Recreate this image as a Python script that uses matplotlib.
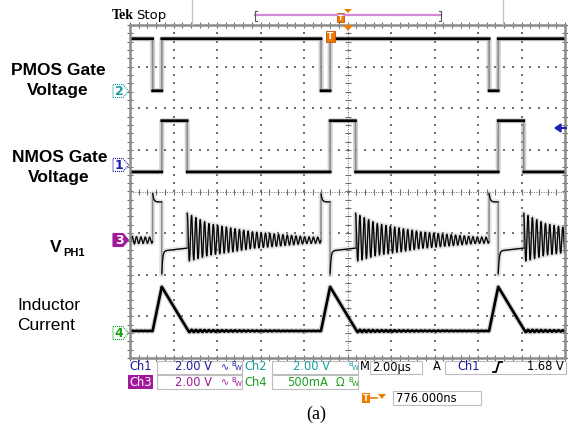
import numpy as np
import matplotlib.pyplot as plt
from matplotlib.patches import Polygon, Rectangle

W, H = 568, 428

# timing (us, trigger at 0, 2 us/div)
pulse_starts = [-16.69, -8.96, -1.22, 6.51]   # PMOS gate falling edges
pmos_low = 0.42
nmos_high = 1.17
fall_time = 1.22
ring_period = 0.2

# levels in divisions (screen centre = 0)
ch2_lvl = [2.42, 3.67]          # PMOS gate low / high
ch1_lvl = [0.47, 1.70]          # NMOS gate low / high
ch3_base = -1.17
ch3_pon = [-0.04, -0.25]        # spike / settled while PMOS on
ch3_non = [-2.0, -1.43, -1.36]  # spike / start / end while NMOS on
ring_t = [0, 1, 3, 5.5, 8]
ring_amp = [0.58, 0.38, 0.2, 0.08, 0.05]
ch4_lvl = [-3.35, -2.29]        # inductor current zero / peak

t = np.linspace(-10, 10, 8001)
ch1 = np.full_like(t, ch1_lvl[0])
ch2 = np.full_like(t, ch2_lvl[1])
ch3 = np.full_like(t, ch3_base)
ch4 = np.full_like(t, ch4_lvl[0])

for i, s in enumerate(pulse_starts):
    p_end = s + pmos_low
    n_end = p_end + nmos_high
    nxt = pulse_starts[i + 1] if i + 1 < len(pulse_starts) else 11
    m = (t >= s) & (t < p_end)
    ch2[m] = ch2_lvl[0]
    ch3[m] = ch3_pon[1] + (ch3_pon[0] - ch3_pon[1]) * np.exp(-(t[m] - s) / 0.05)
    ch4[m] = ch4_lvl[0] + (ch4_lvl[1] - ch4_lvl[0]) * (t[m] - s) / pmos_low
    m = (t >= p_end) & (t < n_end)
    ch1[m] = ch1_lvl[1]
    ch3[m] = (ch3_non[1] + (ch3_non[2] - ch3_non[1]) * (t[m] - p_end) / nmos_high
              + (ch3_non[0] - ch3_non[1]) * np.exp(-(t[m] - p_end) / 0.04))
    m = (t >= p_end) & (t < p_end + fall_time)
    ch4[m] = ch4_lvl[1] - (ch4_lvl[1] - ch4_lvl[0]) * (t[m] - p_end) / fall_time
    m = (t >= n_end) & (t < nxt)
    tr = t[m] - n_end
    amp = np.interp(tr, ring_t, ring_amp)
    ch3[m] = ch3_base + 0.07 * np.exp(-tr / 0.8) + amp * np.cos(2 * np.pi * tr / ring_period)
    m = (t >= p_end + fall_time) & (t < nxt)
    tr = t[m] - n_end
    ch4[m] += 0.05 * np.interp(tr, ring_t, ring_amp) * np.cos(2 * np.pi * tr / ring_period)

fig = plt.figure(figsize=(W / 100, H / 100), dpi=100)
ax = fig.add_axes([130 / W, 1 - 358 / H, 435 / W, 333 / H])
ax.set_xlim(-10, 10)
ax.set_ylim(-4, 4)
ax.axis('off')

# graticule
gc = '#6e6e6e'
for gx in [-8, -6, -4, -2, 2, 4, 6, 8]:
    yy = np.arange(-4, 4.01, 0.2)
    ax.scatter(np.full_like(yy, gx), yy, s=1.0, c=gc, marker='s', linewidths=0)
for gy in [-3, -2, -1, 1, 2, 3]:
    xx = np.arange(-10, 10.01, 0.4)
    ax.scatter(xx, np.full_like(xx, gy), s=1.0, c=gc, marker='s', linewidths=0)
ax.plot([0, 0], [-4, 4], color=gc, lw=0.7, ls=(0, (1, 1.5)))
ax.plot([-10, 10], [0, 0], color=gc, lw=0.7, ls=(0, (1, 1.5)))
yy = np.arange(-4, 4.01, 0.2)
xx = np.arange(-10, 10.01, 0.4)
ax.plot(np.zeros_like(yy), yy, ls='none', marker='_', ms=5, mew=0.8, color=gc)
ax.plot(xx, np.zeros_like(xx), ls='none', marker='|', ms=5, mew=0.8, color=gc)
for yb in [-4, 4]:
    ax.plot(xx, np.full_like(xx, yb), ls='none', marker='|', ms=4, mew=0.8, color=gc, clip_on=False)
for xb in [-10, 10]:
    ax.plot(np.full_like(yy, xb), yy, ls='none', marker='_', ms=4, mew=0.8, color=gc, clip_on=False)

# traces: fast edges drawn faint, settled parts dark
for y, lw, halo in [(ch2, 2.0, 0.55), (ch1, 2.0, 0.55), (ch3, 0.8, 0.3), (ch4, 1.9, 0.55)]:
    ax.plot(t, y, color='#a8a8a8', lw=3.6, alpha=halo)
    ax.plot(t, y, color='#8a8a8a', lw=1.1)
    dark = y.copy()
    jump = np.abs(np.diff(y)) > 0.1
    dark[1:][jump] = np.nan
    ax.plot(t, dark, color='black', lw=lw)

# overlay in pixel coordinates
ov = fig.add_axes([0, 0, 1, 1])
ov.set_xlim(0, W)
ov.set_ylim(H, 0)
ov.axis('off')

ov.add_patch(Rectangle((130, 25), 435, 333, fill=False, ec='#8c8c8c', lw=1.8))

sans = 'Liberation Sans'
ov.text(58, 70, 'PMOS Gate', fontsize=12.5, fontweight='bold', family=sans, ha='center', va='center')
ov.text(58, 90, 'Voltage', fontsize=12.5, fontweight='bold', family=sans, ha='center', va='center')
ov.text(60, 157, 'NMOS Gate', fontsize=12.5, fontweight='bold', family=sans, ha='center', va='center')
ov.text(59, 177, 'Voltage', fontsize=12.5, fontweight='bold', family=sans, ha='center', va='center')
ov.text(50, 247, 'V', fontsize=12.5, fontweight='bold', family=sans, ha='left', va='center')
ov.text(63, 253, 'PH1', fontsize=8, fontweight='bold', family=sans, ha='left', va='center')
ov.text(17, 305, 'Inductor', fontsize=12.5, family=sans, ha='left', va='center')
ov.text(17, 325, 'Current', fontsize=12.5, family=sans, ha='left', va='center')

# channel markers
markers = [(91, '2', '#1aa0a0', False), (165, '1', '#2020b0', False),
           (240, '3', '#a0189c', True), (333, '4', '#20a020', False)]
for yc, lab, col, filled in markers:
    pts = [(113, yc - 6.5), (123, yc - 6.5), (128.5, yc), (123, yc + 6.5), (113, yc + 6.5)]
    ov.add_patch(Polygon(pts, closed=True, fill=filled, fc=col, ec=col, lw=0.8,
                         ls='-' if filled else (0, (1, 0.8))))
    ov.text(119, yc + 0.5, lab, fontsize=9, fontweight='bold', family='DejaVu Sans',
            color='white' if filled else col, ha='center', va='center')

# trigger level arrow on the right
ov.add_patch(Polygon([(555, 128), (561, 124), (561, 132)], closed=True, fc='#2020b0', ec='#2020b0'))
ov.plot([560, 566], [128, 128], color='#2020b0', lw=1.5)

# top bar
ov.text(112, 15, 'Tek', fontsize=10, fontweight='bold', family='Liberation Serif', ha='left', va='center')
ov.text(136, 15, 'Stop', fontsize=9.5, family='DejaVu Sans', ha='left', va='center')
ov.plot([192, 192], [0, 24], color='#c4c4c4', lw=1)
ov.plot([503, 503], [0, 24], color='#c4c4c4', lw=1)
ov.plot([255, 441], [15, 15], color='#d487d4', lw=1.6)
ov.plot([257, 255, 255, 257], [11, 11, 21, 21], color='#555555', lw=0.8)
ov.plot([439, 441, 441, 439], [11, 11, 21, 21], color='#555555', lw=0.8)
orange = '#f07a00'


def tmark(x, y, w, h):
    ov.add_patch(Rectangle((x - w / 2, y - h / 2), w, h, fc=orange, ec='#c05000', lw=0.6))
    ov.text(x, y + 0.5, 'T', fontsize=h * 0.6, color='white', fontweight='bold',
            family='DejaVu Sans', ha='center', va='center')


tmark(340, 17, 7, 9)
tmark(330, 36, 9, 11)
ov.add_patch(Polygon([(344, 9), (352, 9), (348, 13)], closed=True, fc=orange, ec='none'))
ov.add_patch(Polygon([(343, 25), (353, 25), (348, 31)], closed=True, fc=orange, ec='none'))

# status readout
box_ec = '#bdbdbd'
for x0, y0, w, h in [(157, 361, 85, 13), (272, 361, 86, 13), (370, 361, 52, 13), (445, 361, 121, 13),
                     (157, 375, 85, 14), (272, 375, 86, 14), (393, 391, 88, 14)]:
    ov.add_patch(Rectangle((x0, y0), w, h, fill=False, ec=box_ec, lw=0.8))

st = dict(fontsize=8.3, family='DejaVu Sans', va='center')
c1, c2, c3, c4 = '#1e1ea0', '#1a9e9e', '#a0189c', '#1e9e1e'
ov.text(129, 367, 'Ch1', color=c1, ha='left', **st)
ov.text(212, 367, '2.00 V', color=c1, ha='right', **st)
ov.text(244, 367, 'Ch2', color=c2, ha='left', **st)
ov.text(330, 367, '2.00 V', color=c2, ha='right', **st)
ov.text(360, 367, 'M', color='black', ha='left', **st)
ov.text(372, 367, '2.00\u00b5s', color='black', ha='left', **st)
ov.text(433, 367, 'A', color='black', ha='left', **st)
ov.text(457, 367, 'Ch1', color=c1, ha='left', **st)
ov.text(564, 367, '1.68 V', color='black', ha='right', **st)
ov.plot([493, 496, 499, 502], [372, 372, 362, 362], color='black', lw=1.3)
ov.add_patch(Rectangle((128, 375), 25, 14, fc=c3, ec='none'))
ov.text(129, 382, 'Ch3', color='white', ha='left', **st)
ov.text(212, 382, '2.00 V', color=c3, ha='right', **st)
ov.text(244, 382, 'Ch4', color=c4, ha='left', **st)
ov.text(287, 382, '500mA', color=c4, ha='left', **st)
ov.text(336, 382, '\u03a9', color=c4, ha='left', **st)

# bandwidth-limit badges
for x, y, col, sine in [(221, 367, c1, True), (348, 367, c2, False), (221, 382, c3, True), (348, 382, c4, False)]:
    bx = x
    if sine:
        ov.text(x, y, '\u223f', color=col, fontsize=7, family='DejaVu Sans', ha='left', va='center')
        bx = x + 10
    ov.text(bx, y - 2.5, 'B', color=col, fontsize=5, family='DejaVu Sans', ha='left', va='center')
    ov.text(bx + 3.5, y + 1.5, 'W', color=col, fontsize=5, family='DejaVu Sans', ha='left', va='center')

ov.add_patch(Rectangle((362, 393), 8, 10, fc=orange, ec='none'))
ov.text(366, 398.5, 'T', fontsize=6, color='white', fontweight='bold', family='DejaVu Sans',
        ha='center', va='center')
ov.plot([370, 377], [398, 398], color=orange, lw=1.2)
ov.add_patch(Polygon([(378, 394), (386, 394), (382, 399)], closed=True, fc=orange, ec='none'))
ov.text(396, 398, '776.000ns', color='black', ha='left', **st)

ov.text(316, 414, '(a)', fontsize=13, family='Liberation Serif', ha='center', va='center')

fig.savefig('out.png', dpi=100)
